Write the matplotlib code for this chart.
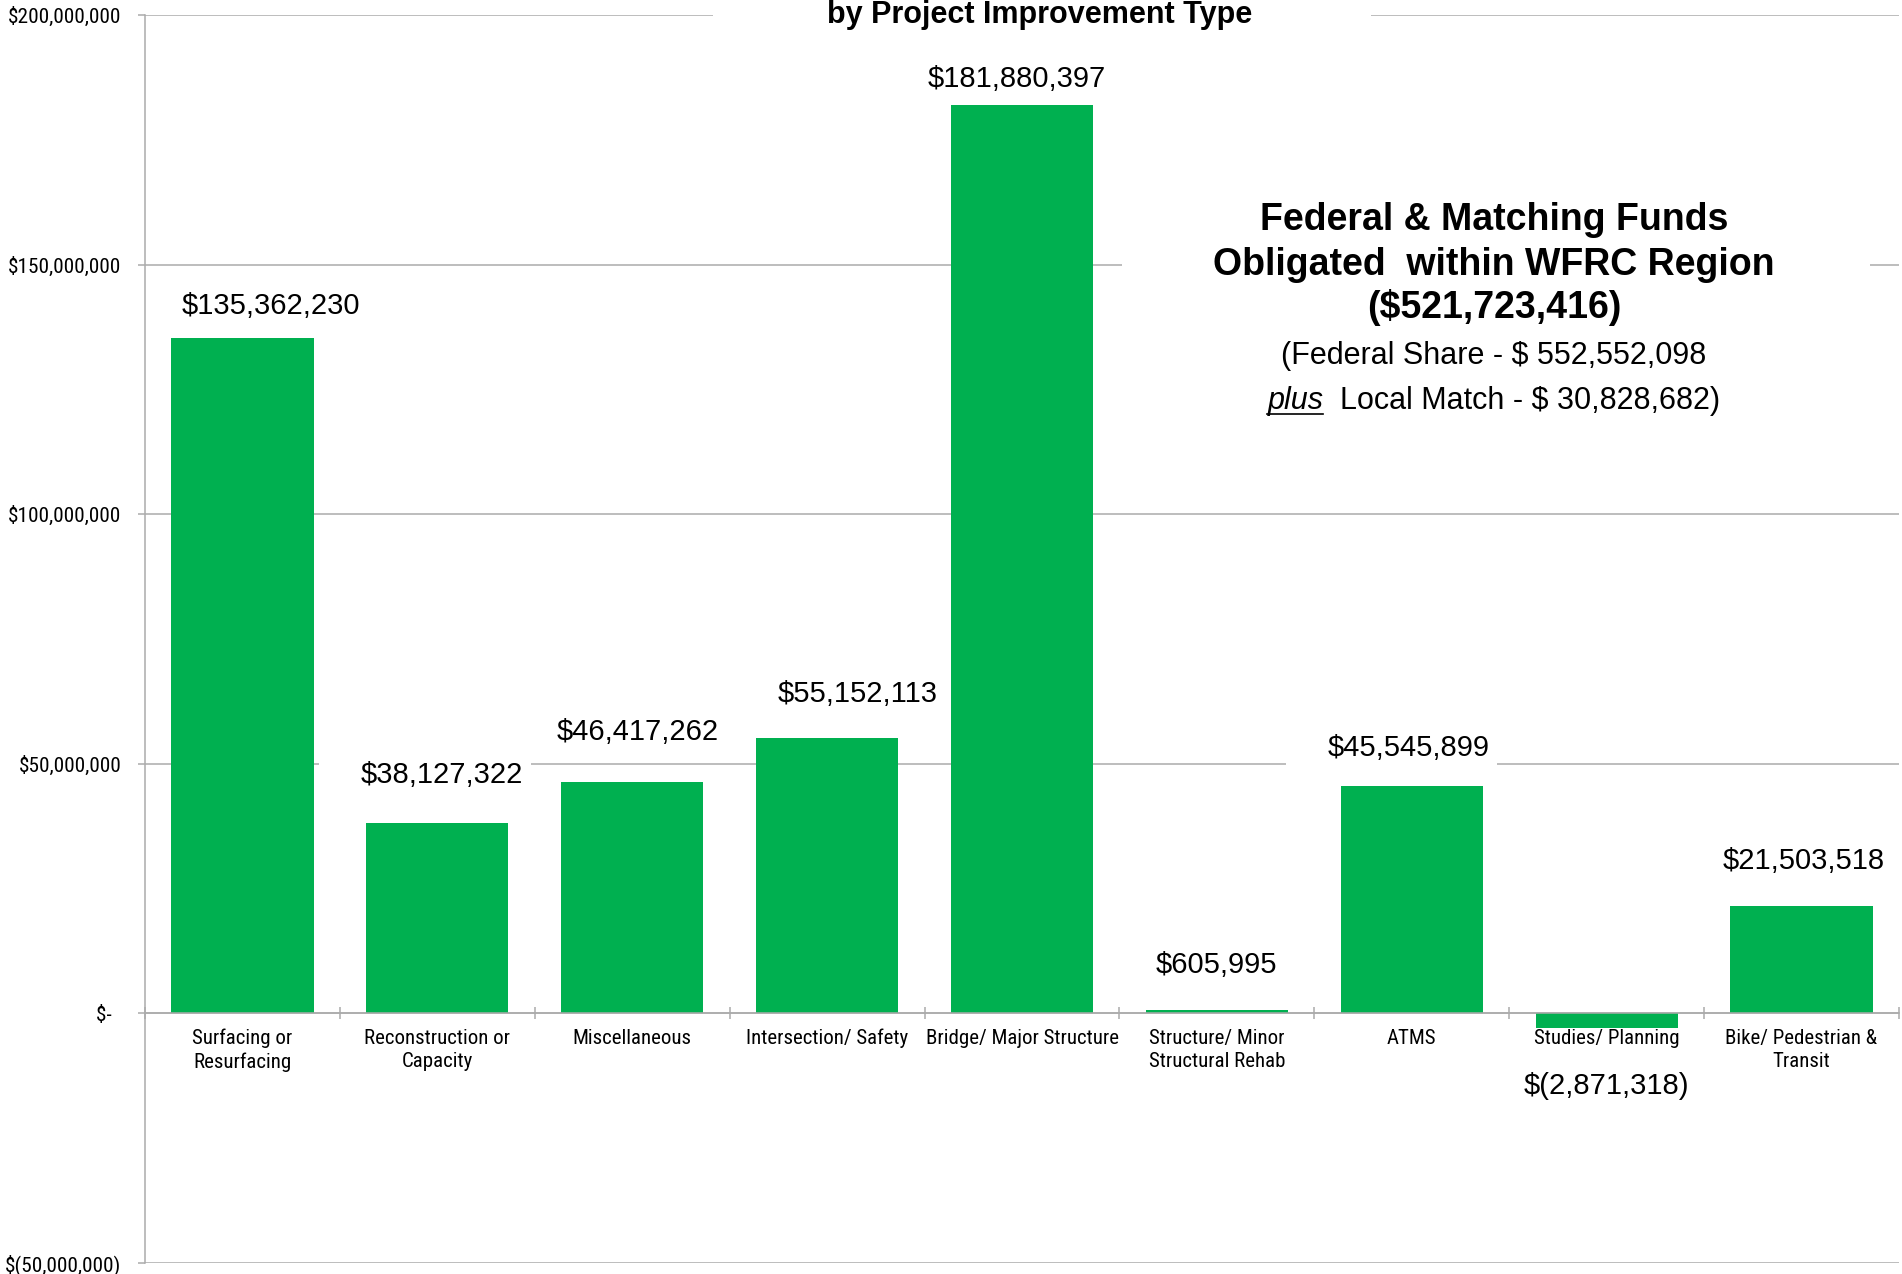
import numpy as np
import matplotlib
matplotlib.use("Agg")
import matplotlib.pyplot as plt
from matplotlib import font_manager
from matplotlib.patches import Rectangle
from matplotlib.lines import Line2D
from matplotlib.ticker import FuncFormatter, FixedLocator

# --- data ---
categories = [
    "Surfacing or\nResurfacing",
    "Reconstruction or\nCapacity",
    "Miscellaneous",
    "Intersection/ Safety",
    "Bridge/ Major Structure",
    "Structure/ Minor\nStructural Rehab",
    "ATMS",
    "Studies/ Planning",
    "Bike/ Pedestrian &\nTransit",
]
values = [135362230, 38127322, 46417262, 55152113, 181880397,
          605995, 45545899, -2871318, 21503518]
y_ticks = [-50000000, 0, 50000000, 100000000, 150000000, 200000000]
total_obligated = 521723416
federal_share = 552552098
local_match = 30828682

# --- layout / style ---
W, H, DPI = 1902, 1274, 100
GREEN = "#00B050"
GRID = "#ABABAB"
LABEL_DX = [28, 5, 5, 31, -5, 0, -3, 0, 2]        # px nudges of value labels
LABEL_GAP = [24, 40, 42, 36, 18, 37, 30, 66, 37]   # px between bar end and label baseline

installed = {f.name for f in font_manager.fontManager.ttflist}
NARROW = None
for cand in ["Liberation Sans Narrow", "Roboto Condensed", "Open Sans Condensed",
             "Noto Sans Condensed", "Arial Narrow"]:
    if cand in installed:
        NARROW = cand
        break
if NARROW is None:
    NARROW, TICK_SIZE, CAT_SIZE = "Liberation Sans", 12.8, 13
else:
    TICK_SIZE, CAT_SIZE = 15.3, 15
plt.rcParams["font.family"] = ["Liberation Sans", "DejaVu Sans"]


def money(v):
    if v == 0:
        return "$-  "
    if v < 0:
        return "$({:,.0f})".format(-v)
    return "${:,.0f}".format(v)


fig = plt.figure(figsize=(W / DPI, H / DPI), dpi=DPI)
ax = fig.add_axes([145 / W, 1 - 1263 / H, (1899 - 145) / W, (1263 - 15) / H])

x = np.arange(len(categories))
ax.bar(x, values, width=0.73, color=GREEN, zorder=1)
ax.set_xlim(-0.5, len(categories) - 0.5)
ax.set_ylim(y_ticks[0], y_ticks[-1])

ax.set_axisbelow(True)
ax.grid(axis="y", color=GRID, linewidth=1.1)
ax.set_yticks(y_ticks)
ax.yaxis.set_major_formatter(FuncFormatter(lambda v, p: money(v)))
ax.tick_params(axis="y", direction="out", length=5, width=1.1, color=GRID,
               pad=12, labelsize=TICK_SIZE, labelfontfamily=NARROW, labelcolor="black")

for s in ["top", "right"]:
    ax.spines[s].set_visible(False)
ax.spines["left"].set_color(GRID)
ax.spines["left"].set_linewidth(1.1)
ax.spines["bottom"].set_position(("data", 0))
ax.spines["bottom"].set_color(GRID)
ax.spines["bottom"].set_linewidth(1.1)

ax.set_xticks(x)
ax.set_xticklabels(categories, fontfamily=NARROW, fontsize=CAT_SIZE, linespacing=1.3)
ax.tick_params(axis="x", which="major", length=0, pad=11)
ax.xaxis.set_minor_locator(FixedLocator(np.arange(-0.5, len(categories), 1.0)))
ax.tick_params(axis="x", which="minor", direction="inout", length=8.5, width=1.1, color=GRID)

# value labels
labels = []
for i, v in enumerate(values):
    dy = LABEL_GAP[i] if v >= 0 else -LABEL_GAP[i]
    t = ax.annotate(money(v), xy=(i, v), xytext=(LABEL_DX[i] * 0.72, dy * 0.72),
                    textcoords="offset points", ha="center", va="baseline",
                    fontsize=21, color="black", zorder=4)
    labels.append(t)

# title (mostly cut off at the top edge)
ax.add_patch(Rectangle((713 / W, 1 - 45 / H), (1371 - 713) / W, 45 / H,
                       transform=fig.transFigure, facecolor="white", edgecolor="none",
                       clip_on=False, zorder=0.8))
fig.text(1040 / W, 1 - 23 / H, "by Project Improvement Type", ha="center",
         va="baseline", fontsize=22, fontweight="bold")

# summary text block
ax.add_patch(Rectangle((1122 / W, 1 - 425 / H), (1870 - 1122) / W, (425 - 185) / H,
                       transform=fig.transFigure, facecolor="white", edgecolor="none",
                       clip_on=False, zorder=0.8))
cx = 1494
fig.text(cx / W, 1 - 230 / H, "Federal & Matching Funds", ha="center", va="baseline",
         fontsize=27, fontweight="bold")
fig.text(cx / W, 1 - 275 / H, "Obligated  within WFRC Region", ha="center", va="baseline",
         fontsize=27, fontweight="bold")
fig.text(cx / W, 1 - 318 / H, "(" + money(total_obligated) + ")", ha="center", va="baseline",
         fontsize=27, fontweight="bold")
fig.text(cx / W, 1 - 364 / H, "(Federal Share - $ {:,}".format(federal_share), ha="center",
         va="baseline", fontsize=22)

fig.canvas.draw()
renderer = fig.canvas.get_renderer()

# last line: underlined italic "plus" followed by regular text
y5 = 1 - 409 / H
t_plus = fig.text(0, y5, "plus", fontstyle="italic", fontsize=22, va="baseline")
t_rest = fig.text(0, y5, "  Local Match - $ {:,})".format(local_match), fontsize=22, va="baseline")
w1 = t_plus.get_window_extent(renderer).width
w2 = t_rest.get_window_extent(renderer).width
x0 = cx - (w1 + w2) / 2
t_plus.set_x(x0 / W)
t_rest.set_x((x0 + w1) / W)
fig.add_artist(Line2D([x0 / W, (x0 + w1) / W], [1 - 414 / H, 1 - 414 / H],
                      transform=fig.transFigure, color="black", linewidth=1.2))

# white boxes behind value labels (they interrupt the gridlines)
inv = fig.transFigure.inverted()
for t in labels:
    bb = t.get_window_extent(renderer)
    (fx0, fy0), (fx1, fy1) = inv.transform([(bb.x0 - 42, bb.y0 - 3), (bb.x1 + 7, bb.y1 + 4)])
    ax.add_patch(Rectangle((fx0, fy0), fx1 - fx0, fy1 - fy0, transform=fig.transFigure,
                           facecolor="white", edgecolor="none", clip_on=False, zorder=0.8))

fig.savefig("out.png", dpi=DPI)
